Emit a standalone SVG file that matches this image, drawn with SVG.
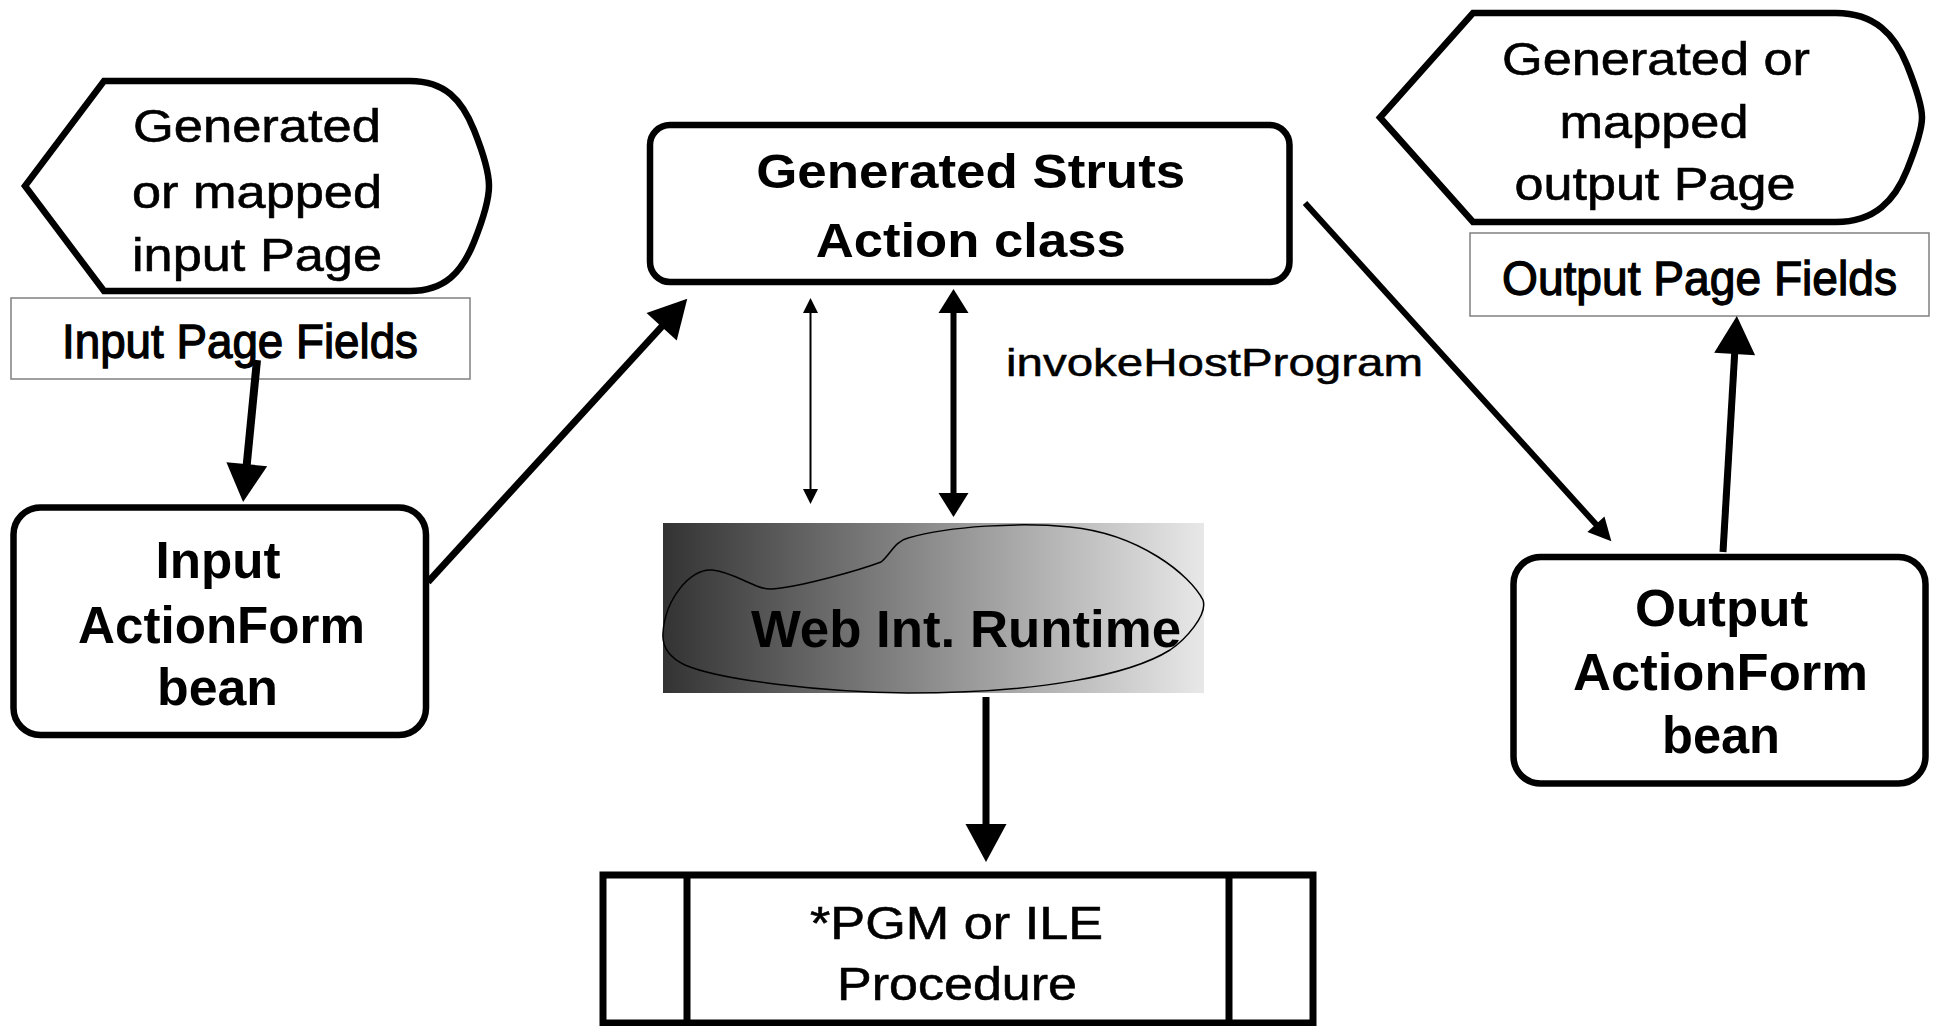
<svg xmlns="http://www.w3.org/2000/svg" width="1939" height="1026" viewBox="0 0 1939 1026">
<style>
.thick{fill:#fff;stroke:#000;stroke-width:6.5}
.field{fill:#fff;stroke:#808080;stroke-width:1.5}
.t{font-family:"Liberation Sans",Arial,sans-serif;fill:#000;text-anchor:middle}
.reg{font-size:46px;stroke:#000;stroke-width:0.6}
.bold{font-size:52px;font-weight:bold}
.narrow{font-family:"Liberation Sans Narrow","Liberation Sans",Arial,sans-serif;font-size:49px;font-weight:normal;stroke:#000;stroke-width:1.3;text-anchor:middle}
.ln{fill:none;stroke:#000}
</style>
<defs>
<linearGradient id="grad" x1="0" y1="0" x2="1" y2="0">
<stop offset="0" stop-color="#333333"/>
<stop offset="1" stop-color="#e8e8e8"/>
</linearGradient>
<marker id="big" markerUnits="userSpaceOnUse" markerWidth="40" markerHeight="42" refX="1" refY="20.5" orient="auto" overflow="visible">
<path d="M0,0 L38,20.5 L0,41 Z" fill="#000"/>
</marker>
<marker id="diag" markerUnits="userSpaceOnUse" markerWidth="24" markerHeight="24" refX="1" refY="11.5" orient="auto" overflow="visible">
<path d="M0,0 L23,11.5 L0,23 Z" fill="#000"/>
</marker>
<marker id="mid" markerUnits="userSpaceOnUse" markerWidth="26" markerHeight="31" refX="1" refY="15" orient="auto-start-reverse" overflow="visible">
<path d="M0,0 L24,15 L0,30 Z" fill="#000"/>
</marker>
<marker id="small" markerUnits="userSpaceOnUse" markerWidth="16" markerHeight="16" refX="1" refY="7.5" orient="auto-start-reverse" overflow="visible">
<path d="M0,0 L15,7.5 L0,15 Z" fill="#000"/>
</marker>
</defs>
<rect width="1939" height="1026" fill="#fff"/>

<g id="input-page">
<path class="thick" d="M104,81 L410,81 C445,81 462,100 474,130 C484,155 489,175 489,186 C489,197 484,217 474,242 C462,272 445,291 410,291 L104,291 L25,186 Z"/>
<text class="t reg" x="257" y="142" textLength="248" lengthAdjust="spacingAndGlyphs">Generated</text>
<text class="t reg" x="257" y="208" textLength="250" lengthAdjust="spacingAndGlyphs">or mapped</text>
<text class="t reg" x="257" y="271" textLength="250" lengthAdjust="spacingAndGlyphs">input Page</text>
</g>
<g id="input-fields">
<rect class="field" x="11" y="298" width="459" height="81"/>
<text class="narrow" x="240" y="358" textLength="356" lengthAdjust="spacingAndGlyphs">Input Page Fields</text>
</g>

<g id="output-page">
<path class="thick" d="M1473,13 L1836,13 C1875,13 1895,35 1907,65 C1917,90 1922,108 1922,117.5 C1922,127 1917,145 1907,170 C1895,200 1875,222 1836,222 L1473,222 L1380,117.5 Z"/>
<text class="t reg" x="1656" y="75" textLength="308" lengthAdjust="spacingAndGlyphs">Generated or</text>
<text class="t reg" x="1654" y="138" textLength="189" lengthAdjust="spacingAndGlyphs">mapped</text>
<text class="t reg" x="1655" y="200" textLength="281" lengthAdjust="spacingAndGlyphs">output Page</text>
</g>
<g id="output-fields">
<rect class="field" x="1470" y="233" width="459" height="83"/>
<text class="narrow" x="1699.5" y="295" textLength="395" lengthAdjust="spacingAndGlyphs">Output Page Fields</text>
</g>

<g id="action-class">
<rect class="thick" x="650" y="125" width="639.5" height="157" rx="20"/>
<text class="t bold" style="font-size:49px" x="970.7" y="188" textLength="429" lengthAdjust="spacingAndGlyphs">Generated Struts</text>
<text class="t bold" style="font-size:49px" x="970.7" y="256.7" textLength="310" lengthAdjust="spacingAndGlyphs">Action class</text>
</g>

<g id="input-form">
<rect class="thick" x="13.5" y="507.5" width="412.5" height="227.5" rx="27"/>
<text class="t bold" x="218" y="578" textLength="125" lengthAdjust="spacingAndGlyphs">Input</text>
<text class="t bold" x="221.5" y="643" textLength="287" lengthAdjust="spacingAndGlyphs">ActionForm</text>
<text class="t bold" x="217.5" y="705" textLength="121" lengthAdjust="spacingAndGlyphs">bean</text>
</g>

<g id="output-form">
<rect class="thick" x="1513.5" y="557" width="412" height="226.5" rx="27"/>
<text class="t bold" x="1721.5" y="626" textLength="173" lengthAdjust="spacingAndGlyphs">Output</text>
<text class="t bold" x="1720.5" y="690" textLength="295" lengthAdjust="spacingAndGlyphs">ActionForm</text>
<text class="t bold" x="1721" y="753" textLength="118" lengthAdjust="spacingAndGlyphs">bean</text>
</g>

<g id="runtime">
<rect x="663" y="523" width="541" height="170" fill="url(#grad)"/>
<path fill="none" stroke="#000" stroke-width="1.5" d="M663,633 C665,600 690,568 712,570 C735,572 755,590 772,589 C800,587 860,570 881,562 C890,555 895,541 908,538 C950,526 1020,522 1070,527 C1140,534 1190,575 1203,600 C1208,615 1185,640 1170,650 C1130,675 1040,693 908,693 C820,692 720,680 685,665 C668,657 662,645 663,633 Z"/>
<text class="t bold" style="font-size:51px" x="966" y="647" textLength="430" lengthAdjust="spacingAndGlyphs">Web Int. Runtime</text>
</g>

<g id="program">
<rect x="603" y="875" width="710" height="148" fill="#fff" stroke="#000" stroke-width="7"/>
<line class="ln" x1="687" y1="875" x2="687" y2="1023" stroke-width="7"/>
<line class="ln" x1="1229" y1="875" x2="1229" y2="1023" stroke-width="7"/>
<text class="t reg" style="font-size:47px" x="956.5" y="939" textLength="293" lengthAdjust="spacingAndGlyphs">*PGM or ILE</text>
<text class="t reg" style="font-size:47px" x="957" y="1000" textLength="240" lengthAdjust="spacingAndGlyphs">Procedure</text>
</g>

<g id="connectors">
<line class="ln" x1="257" y1="360" x2="246.7" y2="465.2" stroke-width="8" marker-end="url(#big)"/>
<line class="ln" x1="428" y1="582" x2="662.3" y2="326" stroke-width="7" marker-end="url(#big)"/>
<line class="ln" x1="1305" y1="203" x2="1596.6" y2="525" stroke-width="6" marker-end="url(#diag)"/>
<line class="ln" x1="1723" y1="552" x2="1734.7" y2="353" stroke-width="7" marker-end="url(#big)"/>
<line class="ln" x1="953.5" y1="312" x2="953.5" y2="494" stroke-width="6" marker-start="url(#mid)" marker-end="url(#mid)"/>
<line class="ln" x1="810.5" y1="312" x2="810.5" y2="490" stroke-width="2" marker-start="url(#small)" marker-end="url(#small)"/>
<line class="ln" x1="986" y1="697" x2="986" y2="825" stroke-width="7" marker-end="url(#big)"/>
<text class="t" style="font-size:39px;text-anchor:start;stroke:#000;stroke-width:0.5" x="1006" y="376" textLength="417" lengthAdjust="spacingAndGlyphs">invokeHostProgram</text>
</g>
</svg>
